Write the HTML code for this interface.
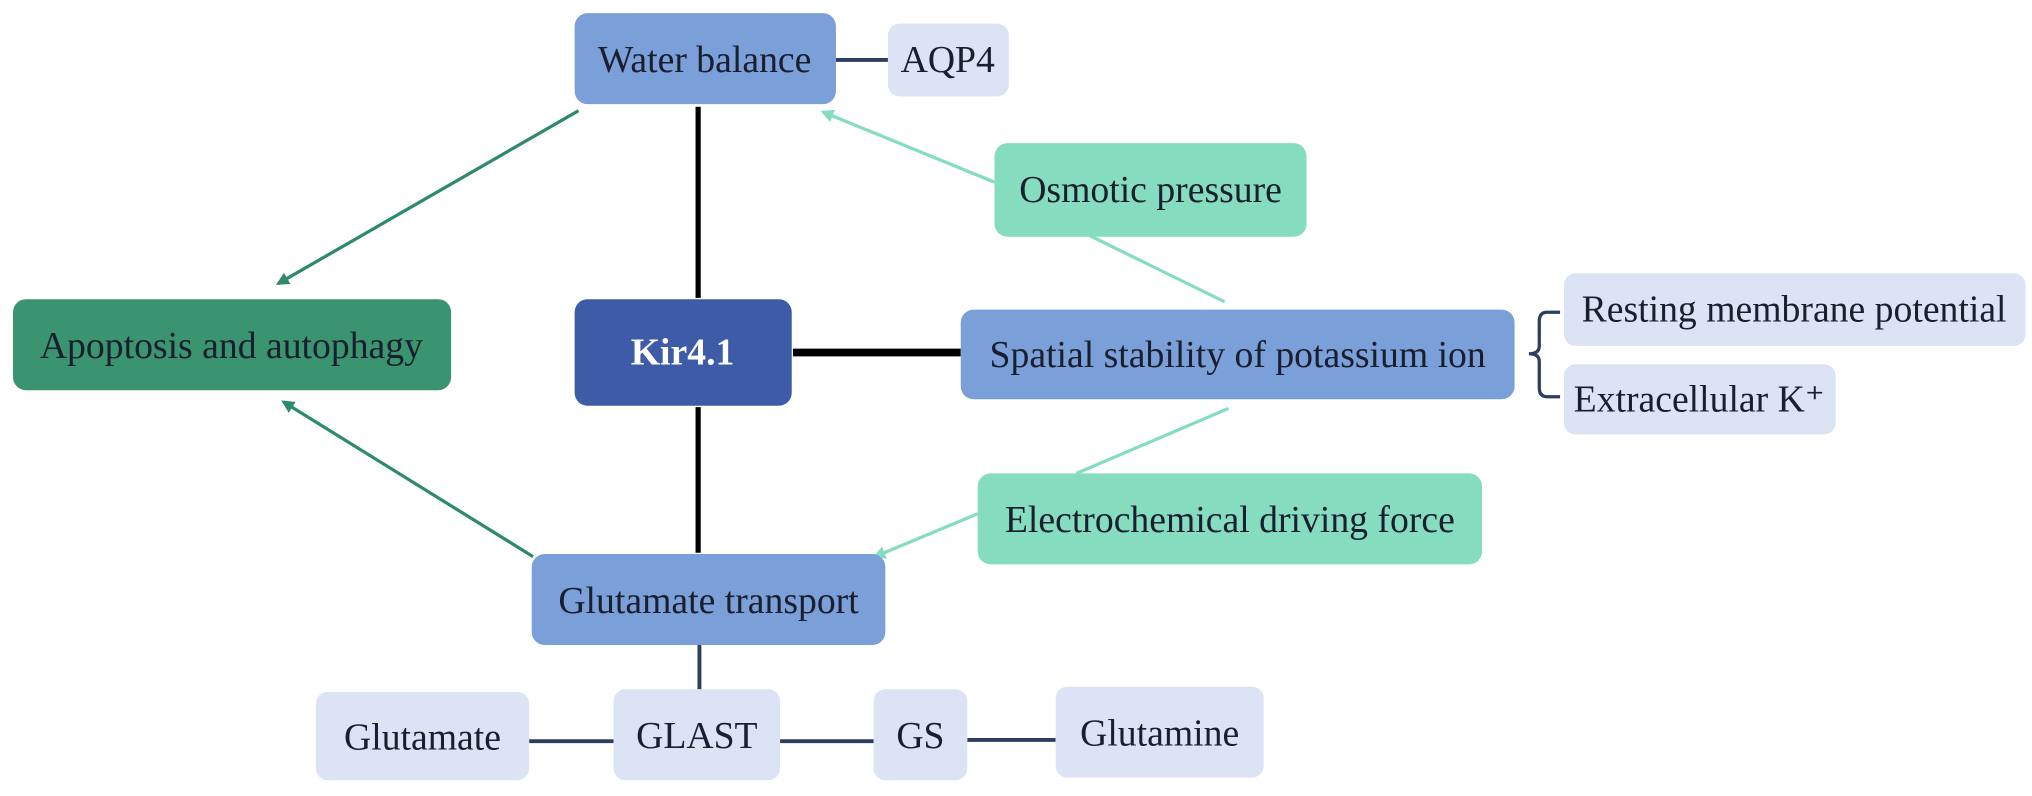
<!DOCTYPE html>
<html><head><meta charset="utf-8"><style>html,body{margin:0;padding:0;background:#fff}svg{display:block}text{font-family:"Liberation Serif",serif;font-size:29px;fill:#1a1f2e;dominant-baseline:central;text-anchor:middle}</style></head><body>
<svg width="2032" height="796" viewBox="0 0 1563 612" xmlns="http://www.w3.org/2000/svg">
<defs>
<marker id="ag" markerWidth="10" markerHeight="10" refX="8" refY="5" orient="auto" markerUnits="userSpaceOnUse"><path d="M0,0 L10,5 L0,10 z" fill="#2e8b67"/></marker>
<marker id="al" markerWidth="10" markerHeight="10" refX="8" refY="5" orient="auto" markerUnits="userSpaceOnUse"><path d="M0,0 L10,5 L0,10 z" fill="#86dcbf"/></marker>
</defs>
<line x1="643" y1="46" x2="683" y2="46" stroke="#2d3e5e" stroke-width="3"/>
<line x1="537" y1="82" x2="537" y2="229" stroke="#000" stroke-width="4"/>
<line x1="537" y1="313" x2="537" y2="425" stroke="#000" stroke-width="4"/>
<line x1="610" y1="271" x2="739" y2="271" stroke="#000" stroke-width="6"/>
<line x1="538" y1="496" x2="538" y2="530" stroke="#2d3e5e" stroke-width="3"/>
<line x1="407" y1="570" x2="472" y2="570" stroke="#2d3e5e" stroke-width="3"/>
<line x1="600" y1="570" x2="672" y2="570" stroke="#2d3e5e" stroke-width="3"/>
<line x1="744" y1="569" x2="812" y2="569" stroke="#2d3e5e" stroke-width="3"/>
<line x1="445" y1="85" x2="214" y2="218" stroke="#2e8b67" stroke-width="2.5" marker-end="url(#ag)"/>
<line x1="410" y1="428" x2="218" y2="309" stroke="#2e8b67" stroke-width="2.5" marker-end="url(#ag)"/>
<line x1="942" y1="232" x2="838" y2="181" stroke="#86dcbf" stroke-width="2.5"/>
<line x1="765" y1="140" x2="633" y2="86" stroke="#86dcbf" stroke-width="2.5" marker-end="url(#al)"/>
<line x1="945" y1="314" x2="828" y2="364" stroke="#86dcbf" stroke-width="2.5"/>
<line x1="752" y1="395" x2="673" y2="428" stroke="#86dcbf" stroke-width="2.5" marker-end="url(#al)"/>
<path d="M1200,240 L1190,240 Q1184,240 1184,247 L1184,266 Q1184,272 1176,272 Q1184,272 1184,278 L1184,298 Q1184,305 1190,305 L1200,305" fill="none" stroke="#2d3e5e" stroke-width="2.5"/>
<rect x="442" y="10" width="201" height="70" rx="10" fill="#7b9fd9"/><text x="542" y="46">Water balance</text>
<rect x="683" y="18" width="93" height="56" rx="9" fill="#dce3f5"/><text x="729" y="46">AQP4</text>
<rect x="765" y="110" width="240" height="72" rx="10" fill="#86dcbf"/><text x="885" y="146">Osmotic pressure</text>
<rect x="10" y="230" width="337" height="70" rx="10" fill="#3a9470"/><text x="178" y="266">Apoptosis and autophagy</text>
<rect x="442" y="230" width="167" height="82" rx="10" fill="#3e5ba8"/><text x="525" y="271" style="fill:#fff;font-weight:bold">Kir4.1</text>
<rect x="739" y="238" width="426" height="69" rx="10" fill="#7b9fd9"/><text x="952" y="273">Spatial stability of potassium ion</text>
<rect x="1203" y="210" width="355" height="56" rx="9" fill="#dce3f5"/><text x="1380" y="238">Resting membrane potential</text>
<rect x="1203" y="280" width="209" height="54" rx="9" fill="#dce3f5"/><text x="1307" y="307">Extracellular K⁺</text>
<rect x="752" y="364" width="388" height="70" rx="10" fill="#86dcbf"/><text x="946" y="400">Electrochemical driving force</text>
<rect x="409" y="426" width="272" height="70" rx="10" fill="#7b9fd9"/><text x="545" y="462">Glutamate transport</text>
<rect x="243" y="532" width="164" height="68" rx="9" fill="#dce3f5"/><text x="325" y="567">Glutamate</text>
<rect x="472" y="530" width="128" height="70" rx="9" fill="#dce3f5"/><text x="536" y="566">GLAST</text>
<rect x="672" y="530" width="72" height="70" rx="9" fill="#dce3f5"/><text x="708" y="566">GS</text>
<rect x="812" y="528" width="160" height="70" rx="9" fill="#dce3f5"/><text x="892" y="564">Glutamine</text>
</svg>
</body></html>
